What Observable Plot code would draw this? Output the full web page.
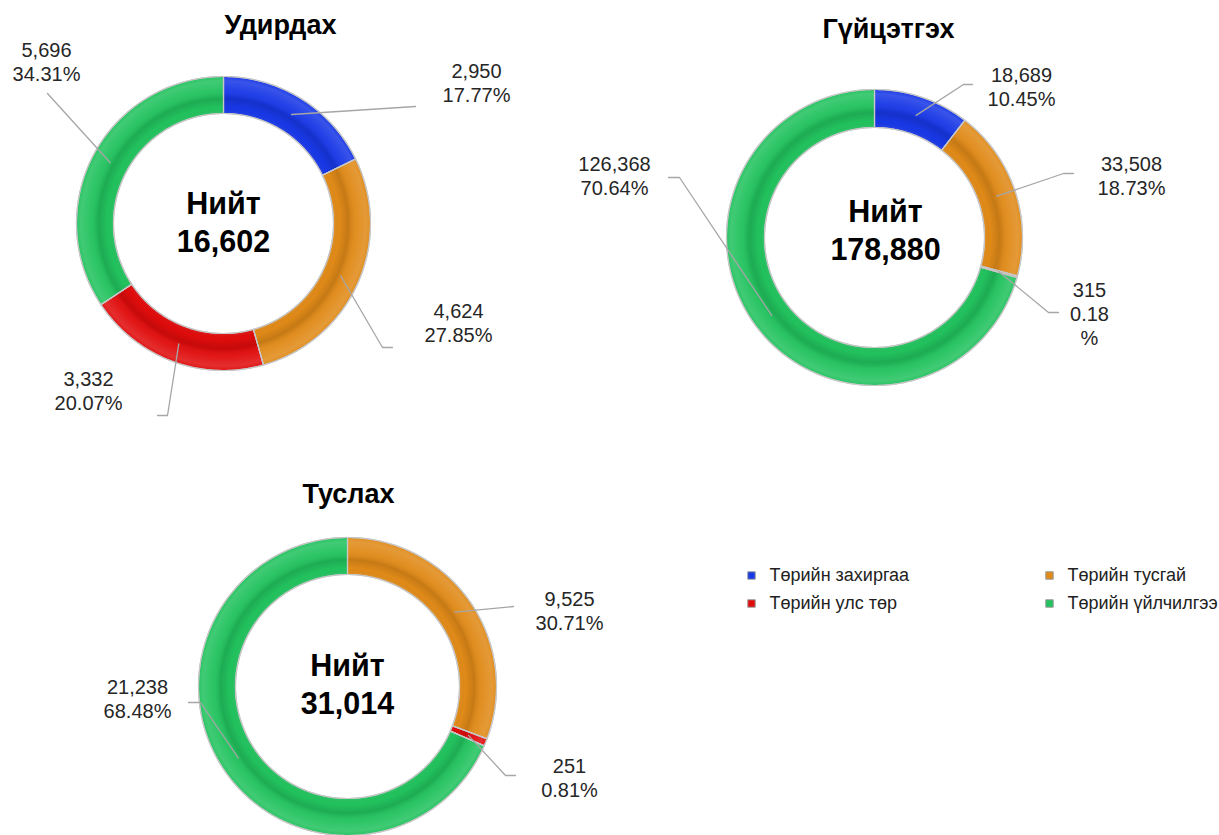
<!DOCTYPE html>
<html><head><meta charset="utf-8">
<script src="https://cdn.jsdelivr.net/npm/d3@7"></script>
<script src="https://cdn.jsdelivr.net/npm/@observablehq/plot@0.6"></script>
<style>body{margin:0;background:#fff;}</style>
</head><body><div id="chart"></div>
<script>
// ---- data ----
const categories = ["Төрийн захиргаа", "Төрийн тусгай", "Төрийн улс төр", "Төрийн үйлчилгээ"];
const groupNames = ["Удирдах", "Гүйцэтгэх", "Туслах"];
const udirdahValues = [2950, 4624, 3332, 5696];
const guitsetgehValues = [18689, 33508, 315, 126368];
const tuslahValues = [0, 9525, 251, 21238];
const totalWord = "Нийт";

// ---- styles / layout ----
const seriesColors = ["#1838e6", "#e08a18", "#e00c0c", "#22c25e"];
const W = 1219, H = 835;
const layout = [
  {cx: 223, cy: 223, R: 147, r: 110, title: [280, 25], center: [223, 220],
   labels: {0: {tx: 476, ty: 81.5, ex: 415, ey: 106, hx: 415},
            1: {tx: 458, ty: 321.5, ex: 382, ey: 347, hx: 392},
            2: {tx: 88, ty: 389.5, ex: 167, ey: 415, hx: 157},
            3: {tx: 46, ty: 60.5, ex: 47, ey: 93, hx: 47}}},
  {cx: 874, cy: 237, R: 148, r: 110, title: [888, 29], center: [885, 228.5],
   labels: {0: {tx: 1021, ty: 85.5, ex: 963, ey: 84, hx: 972},
            1: {tx: 1131, ty: 174.5, ex: 1063, ey: 173, hx: 1073},
            2: {tx: 1089, ty: 312.5, ex: 1048, ey: 312, hx: 1058, wrap: true},
            3: {tx: 614, ty: 174.5, ex: 679, ey: 177, hx: 668}}},
  {cx: 347, cy: 686, R: 149, r: 112, title: [348, 494], center: [347, 682],
   labels: {1: {tx: 569, ty: 609.5, ex: 513, ey: 606, hx: 513},
            2: {tx: 569, ty: 776.5, ex: 505, ey: 775, hx: 515},
            3: {tx: 137, ty: 697.5, ex: 200, ey: 702, hx: 188}}}
];
const legendPos = [[751, 575], [1049, 575], [751, 603], [1049, 603]];

const allValues = [udirdahValues, guitsetgehValues, tuslahValues];
const fmt = d3.format(",");

const slices = [], shades = [], leaders = [], labels = [], titles = [], centers = [];
allValues.forEach((vals, g) => {
  const L = layout[g];
  const total = d3.sum(vals);
  let cum = 0;
  const pt = (rad, a) => ({x: L.cx + rad * Math.sin(a), y: L.cy - rad * Math.cos(a)});
  vals.forEach((v, i) => {
    const a0 = cum / total * 2 * Math.PI;
    cum += v;
    const a1 = cum / total * 2 * Math.PI;
    if (v <= 0) return;
    const n = Math.max(2, Math.ceil((a1 - a0) / (Math.PI / 360)));
    const id = `${g}-${i}`;
    const ring = [];
    for (let k = 0; k <= n; k++) ring.push(pt(L.R, a0 + (a1 - a0) * k / n));
    for (let k = n; k >= 0; k--) ring.push(pt(L.r, a0 + (a1 - a0) * k / n));
    ring.forEach(p => {
      slices.push({id, x: p.x, y: p.y, color: seriesColors[i]});
      shades.push({id, x: p.x, y: p.y, shade: `url(#shade${g})`});
    });
    const lab = L.labels[i];
    if (lab) {
      const am = (a0 + a1) / 2;
      const s = pt((L.R + L.r) / 2, am);
      leaders.push({id, x: s.x, y: s.y}, {id, x: lab.ex, y: lab.ey}, {id, x: lab.hx, y: lab.ey});
      const pct = (v / total * 100).toFixed(2);
      const text = lab.wrap ? `${fmt(v)}\n${pct}\n%` : `${fmt(v)}\n${pct}%`;
      labels.push({x: lab.tx, y: lab.ty, text});
    }
  });
  titles.push({x: L.title[0], y: L.title[1], text: groupNames[g]});
  centers.push({x: L.center[0], y: L.center[1], text: `${totalWord}\n${fmt(total)}`});
});
const legend = categories.map((c, i) => ({x: legendPos[i][0], y: legendPos[i][1], text: c, color: seriesColors[i]}));

// gradient defs for bevel-like shading
const defsMark = () => {
  const ns = "http://www.w3.org/2000/svg";
  const defs = document.createElementNS(ns, "defs");
  layout.forEach((L, g) => {
    const rg = document.createElementNS(ns, "radialGradient");
    rg.setAttribute("id", `shade${g}`);
    rg.setAttribute("gradientUnits", "userSpaceOnUse");
    rg.setAttribute("cx", L.cx); rg.setAttribute("cy", L.cy); rg.setAttribute("r", L.R);
    const k = L.r / L.R;
    const stops = [
      [k, "#ffffff", 0.08], [k + 0.04, "#000000", 0.0], [k + 0.1, "#000000", 0.12],
      [0.86, "#000000", 0.08], [0.9, "#ffffff", 0.04], [0.97, "#ffffff", 0.14], [1, "#ffffff", 0.04]
    ];
    stops.forEach(([o, c, op]) => {
      const s = document.createElementNS(ns, "stop");
      s.setAttribute("offset", o); s.setAttribute("stop-color", c); s.setAttribute("stop-opacity", op);
      rg.appendChild(s);
    });
    defs.appendChild(rg);
  });
  return defs;
};

const chart = Plot.plot({
  width: W, height: H, margin: 0,
  x: {domain: [0, W], range: [0, W], axis: null},
  y: {domain: [0, H], range: [0, H], axis: null},
  color: {type: "identity"},
  style: {fontFamily: "'Liberation Sans', Arial, sans-serif", background: "#fff"},
  marks: [
    defsMark,
    Plot.line(slices, {x: "x", y: "y", z: "id", fill: "color", stroke: "#bdbdbd", strokeWidth: 1.2, curve: "linear-closed"}),
    Plot.line(shades, {x: "x", y: "y", z: "id", fill: "shade", stroke: "none", curve: "linear-closed"}),
    Plot.line(slices, {x: "x", y: "y", z: "id", fill: "none", stroke: "#c8c8c8", strokeWidth: 1.1, curve: "linear-closed"}),
    Plot.line(leaders, {x: "x", y: "y", z: "id", stroke: "#a6a6a6", strokeWidth: 1.3}),
    Plot.text(labels, {x: "x", y: "y", text: "text", fontSize: 20, lineHeight: 1.2, lineAnchor: "middle", fill: "#262626"}),
    Plot.text(titles, {x: "x", y: "y", text: "text", fontSize: 27, fontWeight: "bold", fill: "#000"}),
    Plot.text(centers, {x: "x", y: "y", text: "text", fontSize: 30.5, fontWeight: "bold", lineHeight: 1.25, lineAnchor: "middle", fill: "#000"}),
    Plot.dot(legend, {x: "x", y: "y", symbol: "square", r: 4.2, fill: "color", stroke: "#9a9a9a", strokeWidth: 1}),
    Plot.text(legend, {x: "x", y: "y", text: "text", dx: 18, textAnchor: "start", fontSize: 18, fill: "#222"})
  ]
});
document.getElementById("chart").appendChild(chart);
</script>
</body></html>
